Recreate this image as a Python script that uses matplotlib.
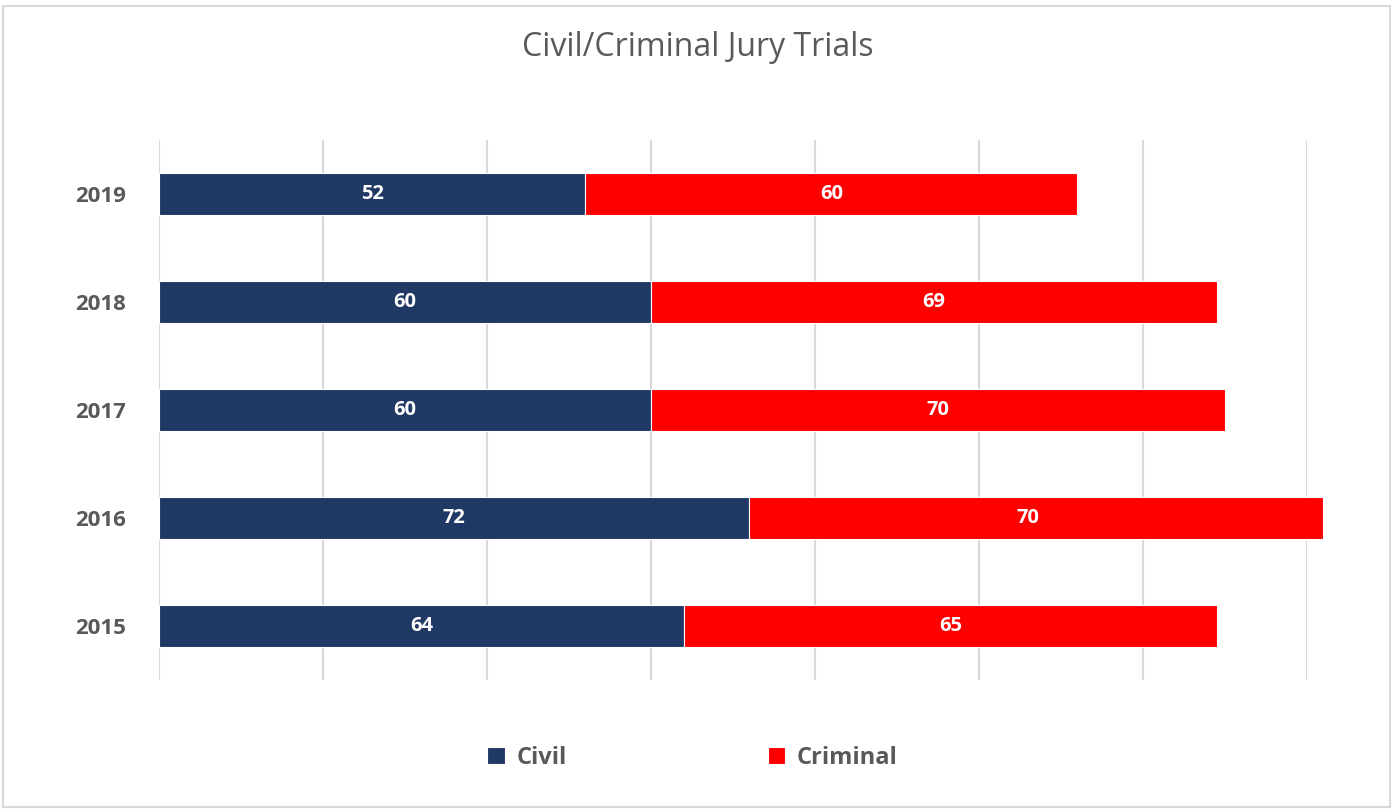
import matplotlib.pyplot as plt
from matplotlib.patches import Rectangle

plt.rcParams['font.family'] = ['Open Sans', 'DejaVu Sans']

years = ['2015', '2016', '2017', '2018', '2019']
civil = [64, 72, 60, 60, 52]
criminal = [65, 70, 70, 69, 60]

navy = '#203864'
red = '#FF0000'
gray = '#595959'

fig = plt.figure(figsize=(13.96, 8.09), dpi=100)
ax = fig.add_axes([159 / 1396, 1 - 680 / 809, (1307 - 159) / 1396, 540 / 809])

# stacked horizontal bars (2016 runs past the last gridline, so no clipping)
b1 = ax.barh(years, civil, height=0.39, color=navy, edgecolor='white', linewidth=0.8,
             label='Civil', zorder=3, clip_on=False)
b2 = ax.barh(years, criminal, left=civil, height=0.39, color=red, edgecolor='white', linewidth=0.8,
             label='Criminal', zorder=3, clip_on=False)

for bars in (b1, b2):
    ax.bar_label(bars, label_type='center', color='white', fontweight='bold', fontsize=14.5)

ax.set_xlim(0, 140)
ax.set_ylim(-0.5, 4.5)
ax.set_xticks(range(0, 141, 20))
ax.xaxis.grid(True, color='#d9d9d9', linewidth=1.5, zorder=0)
ax.tick_params(axis='x', length=0, labelbottom=False)
ax.tick_params(axis='y', length=0, pad=24, labelsize=16, labelcolor=gray)
for lbl in ax.get_yticklabels():
    lbl.set_fontweight('bold')
for s in ax.spines.values():
    s.set_visible(False)

fig.text(0.5, 1 - 47 / 809, 'Civil/Criminal Jury Trials', ha='center', va='center',
         fontsize=23, color=gray)

fig.legend(handles=[b1, b2], loc='center', bbox_to_anchor=(0.496, 1 - 758 / 809), ncol=2,
           frameon=False, prop={'weight': 'bold', 'size': 17},
           labelcolor=gray, handlelength=0.75, handleheight=0.75, handletextpad=0.5,
           columnspacing=8.5)

# light border round the figure
fig.patches.append(Rectangle((0.002, 0.002), 0.994, 0.99, transform=fig.transFigure,
                             fill=False, edgecolor='#d9d9d9', linewidth=1.5))

fig.savefig('out.png', dpi=100)
